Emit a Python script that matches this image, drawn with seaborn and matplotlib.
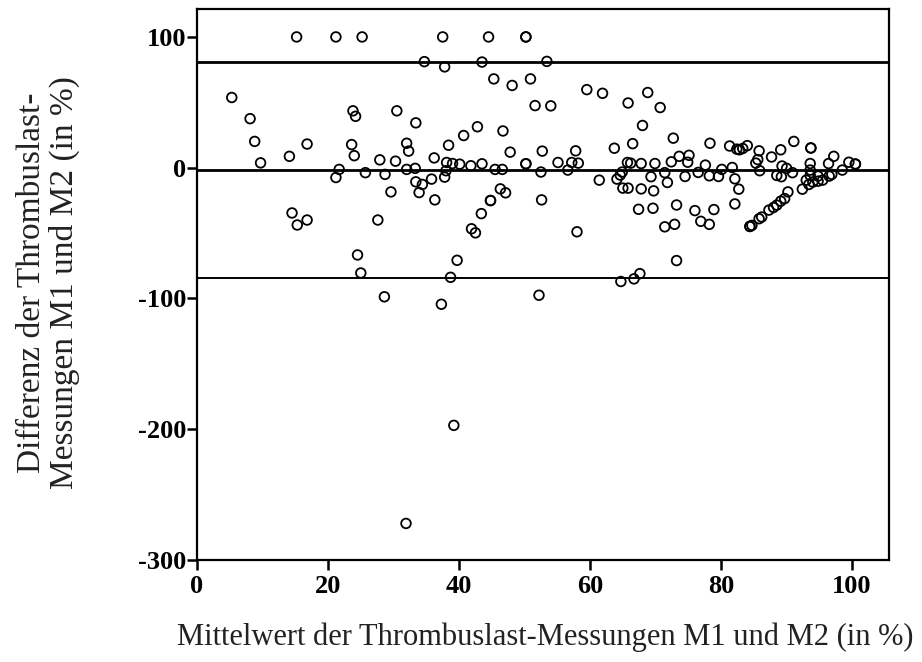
import matplotlib
matplotlib.use("Agg")
import matplotlib.pyplot as plt
import seaborn as sns
import pandas as pd

# Mean of M1 and M2 (%)
mean_vals = [
    15.2, 21.2, 25.2, 5.3, 8.1, 8.8, 9.7, 14.1, 16.8, 23.8,
    24.2, 23.6, 24.0, 21.7, 21.2, 25.7, 14.5, 15.3, 16.8, 24.5,
    25.0, 37.5, 44.5, 50.2, 50.2, 34.7, 37.8, 43.5, 53.4, 45.3,
    48.1, 50.9, 51.6, 30.5, 33.4, 42.8, 40.7, 46.7, 32.0, 32.3,
    38.4, 47.8, 52.7, 27.9, 30.3, 36.2, 38.1, 39.0, 40.1, 41.8,
    43.5, 50.2, 50.2, 28.7, 32.0, 33.3, 38.0, 37.8, 45.5, 46.6,
    52.5, 33.4, 34.4, 35.8, 33.9, 29.6, 36.3, 46.3, 47.1, 44.8,
    44.8, 52.6, 27.6, 43.4, 41.9, 42.5, 39.7, 38.7, 28.6, 37.3,
    52.2, 64.7, 66.7, 39.2, 31.9, 59.5, 61.9, 68.8, 65.8, 70.7,
    54.0, 68.0, 72.7, 66.5, 63.7, 57.8, 78.3, 55.1, 57.2, 58.2,
    65.7, 66.2, 67.8, 69.9, 72.4, 73.6, 75.1, 74.9, 77.6, 56.6,
    61.4, 64.9, 64.6, 64.1, 71.4, 69.3, 71.8, 74.5, 76.5, 78.2,
    65.0, 65.8, 67.8, 69.7, 67.4, 69.6, 73.2, 76.0, 78.9, 71.4,
    72.9, 76.9, 78.2, 58.0, 73.2, 67.6, 81.3, 82.4, 82.8, 83.3,
    84.0, 85.8, 85.6, 85.9, 85.3, 87.7, 89.1, 91.1, 93.7, 93.7,
    97.2, 96.4, 99.5, 100.5, 100.5, 79.6, 80.1, 81.7, 82.1, 82.7,
    82.1, 88.5, 89.2, 89.3, 90.0, 90.9, 93.6, 93.6, 93.6, 94.8,
    95.5, 96.5, 96.9, 98.5, 92.4, 93.0, 93.4, 94.0, 94.8, 90.2,
    89.7, 89.1, 88.5, 88.0, 87.3, 86.2, 85.8, 84.7, 84.4, 84.4,
]

# Difference M1 - M2 (%)
diff_vals = [
    100, 100, 100, 53.7, 37.5, 20.1, 3.7, 8.7, 18.1, 43.5,
    39.3, 17.7, 9.2, -1.3, -7.5, -3.8, -34.6, -43.8, -40, -66.7,
    -80.5, 100, 100, 100, 100, 81.1, 77.1, 80.8, 81.3, 67.9,
    62.9, 67.9, 47.5, 43.5, 34.3, 31.3, 24.6, 28.1, 18.7, 12.7,
    17.2, 11.9, 12.7, 6.0, 5.0, 7.5, 4.0, 3.2, 2.7, 1.5,
    3.0, 3.0, 3.0, -5.1, -1.3, -0.5, -2.3, -7.2, -1.3, -1.3,
    -3.3, -10.8, -12.8, -8.7, -19, -18.5, -24.6, -16.2, -19.2, -25.1,
    -25.1, -24.6, -40, -35.1, -46.7, -49.8, -70.8, -83.8, -98.7, -104.4,
    -97.5, -87, -85, -197, -272, 59.7, 56.9, 57.5, 49.5, 46,
    47.3, 32.3, 22.6, 18.4, 14.9, 12.9, 18.7, 4.0, 4.0, 3.5,
    4.0, 3.5, 3.2, 3.2, 4.5, 8.7, 9.5, 4.2, 2.0, -1.8,
    -9.5, -3.3, -5.6, -8.7, -3.8, -6.9, -11.3, -6.7, -3.6, -6.2,
    -15.6, -15.6, -16.2, -17.7, -31.8, -31, -28.5, -32.8, -32, -45.2,
    -43.3, -41, -43.3, -49, -71, -81, 16.6, 14.2, 13.7, 14.7,
    16.9, 12.9, 6.2, -2.3, 3.5, 8.2, 13.7, 20.1, 15.1, 15.1,
    8.7, 3.2, 4.2, 2.8, 2.8, -6.7, -1.3, 0.2, -8.5, -16.4,
    -27.7, -5.9, -6.9, 1.3, -0.5, -3.8, 3.2, -1.8, -5.9, -6.4,
    -9.5, -6.4, -5.1, -1.8, -16.4, -9.5, -12.8, -11, -10.3, -18.5,
    -23.6, -25.6, -28.6, -30.4, -32.4, -37.7, -39, -44.1, -44.9, -44.9,
]

mean_diff = -2.0
upper_loa = 81.0
lower_loa = -84.5

x_ticks = [0, 20, 40, 60, 80, 100]
y_ticks = [100, 0, -100, -200, -300]

x_label = "Mittelwert der Thrombuslast-Messungen M1 und M2 (in %)"
y_label = "Differenz der Thrombuslast-\nMessungen M1 und M2 (in %)"

df = pd.DataFrame({"mean": mean_vals, "diff": diff_vals})

sns.set_theme(style="white")
plt.rcParams["font.family"] = ["Liberation Serif", "DejaVu Serif"]

fig = plt.figure(figsize=(9.22, 6.62), dpi=100)
ax = fig.add_axes([0.2137, 0.154, 0.964 - 0.2137, 0.9857 - 0.154])

sns.scatterplot(data=df, x="mean", y="diff", ax=ax, marker="o",
                s=48, facecolor="none", edgecolor="black", linewidth=1.3,
                zorder=3)

ax.axhline(upper_loa, color="black", lw=2.0, zorder=2)
ax.axhline(mean_diff, color="black", lw=2.0, zorder=2)
ax.axhline(lower_loa, color="black", lw=1.4, zorder=2)

ax.set_xlim(0, 105.6)
ax.set_ylim(-300, 121)
ax.set_xticks(x_ticks)
ax.set_yticks(y_ticks)
ax.set_xticklabels([str(t) for t in x_ticks], fontsize=19, fontweight="bold")
ax.set_yticklabels([str(t) for t in y_ticks], fontsize=19, fontweight="bold")
ax.tick_params(axis="both", direction="out", length=7.5, width=1.8,
               color="black", labelcolor="black",
               bottom=True, left=True)
ax.tick_params(axis="x", pad=3)
ax.tick_params(axis="y", pad=0.5)

for sp in ax.spines.values():
    sp.set_color("black")
    sp.set_linewidth(1.6)
    sp.set_visible(True)

ax.set_xlabel("")
ax.set_ylabel("")
fig.text(545 / 922, 1 - 637 / 662, x_label, fontsize=22, color="#222222",
         ha="center", va="center")
fig.text(48 / 922, 1 - 283 / 662, y_label, fontsize=24, color="#222222",
         ha="center", va="center", rotation=90, linespacing=1.08,
         multialignment="center")
ax.grid(False)

fig.savefig("out.png", dpi=100, facecolor="white")
